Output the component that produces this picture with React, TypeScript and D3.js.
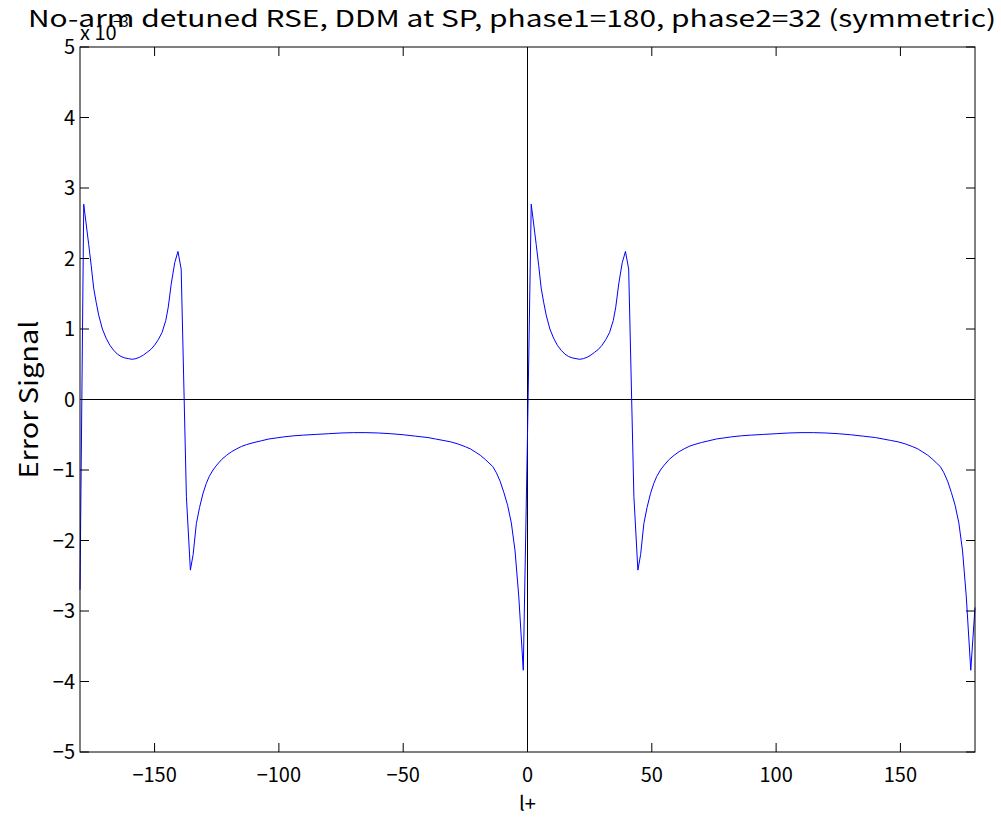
import React from "react";
import * as d3 from "d3";

const titleText = "No-arm detuned RSE, DDM at SP, phase1=180, phase2=32 (symmetric)";
const xLabel = "l+";
const yLabel = "Error Signal";
const xTicks = [-150, -100, -50, 0, 50, 100, 150];
const yTicks = [-5, -4, -3, -2, -1, 0, 1, 2, 3, 4, 5];

const leftPhase = [
  -180, -178.5, -176.5, -175.5, -174.5, -173.5, -172.5, -171, -169.5, -168,
  -166.5, -165, -163.5, -162, -160.5, -159, -157.5, -156, -154.5, -153,
  -151.5, -150, -148.5, -147, -145.5, -144.5, -143.3, -141.9, -140.6, -139.3,
  -137.2, -135.6, -134.5, -133.2, -131.9, -130.5, -129.2, -128, -126.5, -125,
  -123, -121, -119, -117, -115, -113, -110, -107, -104, -101,
  -98, -94, -90, -85, -80, -75, -70, -65, -60, -55,
  -50, -45, -40, -37, -34, -31, -28, -25, -23, -21,
  -19, -17, -15.5, -14, -12.5, -11, -9.5, -8, -6.5, -5,
  -3.5, -1.7,
];
const leftSignal = [
  -2.7, 2.77, 2.2, 1.9, 1.58, 1.38, 1.2, 1.0, 0.87, 0.77,
  0.7, 0.645, 0.61, 0.59, 0.58, 0.57, 0.58, 0.6, 0.63, 0.67,
  0.71, 0.77, 0.85, 0.95, 1.12, 1.31, 1.64, 1.94, 2.1, 1.85,
  -1.38, -2.42, -2.2, -1.76, -1.53, -1.33, -1.19, -1.09, -1.0, -0.93,
  -0.85, -0.79, -0.74, -0.7, -0.665, -0.64, -0.61, -0.585, -0.56, -0.545,
  -0.53, -0.515, -0.505, -0.495, -0.485, -0.475, -0.47, -0.47, -0.475, -0.485,
  -0.5, -0.52, -0.54, -0.56, -0.58, -0.6, -0.63, -0.67, -0.7, -0.745,
  -0.79, -0.85, -0.9, -0.95, -1.04, -1.16, -1.32, -1.5, -1.75, -2.15,
  -2.8, -3.84,
];

const rightPhase = [
  0, 1.5, 3.5, 4.5, 5.5, 6.5, 7.5, 9, 10.5, 12,
  13.5, 15, 16.5, 18, 19.5, 21, 22.5, 24, 25.5, 27,
  28.5, 30, 31.5, 33, 34.5, 35.5, 36.7, 38.1, 39.4, 40.7,
  42.8, 44.4, 45.5, 46.8, 48.1, 49.5, 50.8, 52, 53.5, 55,
  57, 59, 61, 63, 65, 67, 70, 73, 76, 79,
  82, 86, 90, 95, 100, 105, 110, 115, 120, 125,
  130, 135, 140, 143, 146, 149, 152, 155, 157, 159,
  161, 163, 164.5, 166, 167.5, 169, 170.5, 172, 173.5, 175,
  176.5, 178.3, 180,
];
const rightSignal = [
  -0.5, 2.77, 2.2, 1.9, 1.58, 1.38, 1.2, 1.0, 0.87, 0.77,
  0.7, 0.645, 0.61, 0.59, 0.58, 0.57, 0.58, 0.6, 0.63, 0.67,
  0.71, 0.77, 0.85, 0.95, 1.12, 1.31, 1.64, 1.94, 2.1, 1.85,
  -1.38, -2.42, -2.2, -1.76, -1.53, -1.33, -1.19, -1.09, -1.0, -0.93,
  -0.85, -0.79, -0.74, -0.7, -0.665, -0.64, -0.61, -0.585, -0.56, -0.545,
  -0.53, -0.515, -0.505, -0.495, -0.485, -0.475, -0.47, -0.47, -0.475, -0.485,
  -0.5, -0.52, -0.54, -0.56, -0.58, -0.6, -0.63, -0.67, -0.7, -0.745,
  -0.79, -0.85, -0.9, -0.95, -1.04, -1.16, -1.32, -1.5, -1.75, -2.15,
  -2.8, -3.84, -2.95,
];

const W = 1001;
const H = 817;
const M = { left: 80, right: 975, top: 47, bottom: 752 };
const FONT = "'Noto Sans CJK JP', 'Noto Sans', sans-serif";

export default function App() {
  const x = d3.scaleLinear().domain([-180, 180]).range([M.left, M.right]);
  const y = d3.scaleLinear().domain([-5, 5]).range([M.bottom, M.top]);

  const phases = [...leftPhase, ...rightPhase];
  const signals = [...leftSignal, ...rightSignal];
  const n = Math.min(phases.length, signals.length);
  const pts: [number, number][] = [];
  for (let i = 0; i < n; i++) pts.push([phases[i], signals[i]]);

  const line = d3
    .line<[number, number]>()
    .defined((d) => Number.isFinite(d[0]) && Number.isFinite(d[1]))
    .x((d) => x(d[0]))
    .y((d) => y(d[1]));

  const tl = 9;
  const fmt = (t: number) => (t < 0 ? "\u2212" + Math.abs(t) : String(t));

  return (
    <svg
      width={W}
      height={H}
      style={{ position: "absolute", left: 0, top: 0, background: "#fff" }}
      fontFamily={FONT}
    >
      <rect x={0} y={0} width={W} height={H} fill="#fff" />
      <line x1={M.left} x2={M.right} y1={y(0)} y2={y(0)} stroke="#000" strokeWidth={1} />
      <line x1={x(0)} x2={x(0)} y1={M.top} y2={M.bottom} stroke="#000" strokeWidth={1} />
      <path d={line(pts) || ""} fill="none" stroke="#0000ff" strokeWidth={1} />
      <rect
        x={M.left}
        y={M.top}
        width={M.right - M.left}
        height={M.bottom - M.top}
        fill="none"
        stroke="#000"
        strokeWidth={1}
      />
      {xTicks.map((t) => (
        <g key={"x" + t}>
          <line x1={x(t)} x2={x(t)} y1={M.bottom} y2={M.bottom - tl} stroke="#000" />
          <line x1={x(t)} x2={x(t)} y1={M.top} y2={M.top + tl} stroke="#000" />
          <text x={x(t)} y={M.bottom + 30} textAnchor="middle" fontSize={20} fill="#000">
            {fmt(t)}
          </text>
        </g>
      ))}
      {yTicks.map((t) => (
        <g key={"y" + t}>
          <line x1={M.left} x2={M.left + tl} y1={y(t)} y2={y(t)} stroke="#000" />
          <line x1={M.right} x2={M.right - tl} y1={y(t)} y2={y(t)} stroke="#000" />
          <text x={M.left - 5} y={y(t) + 7} textAnchor="end" fontSize={20} fill="#000">
            {fmt(t)}
          </text>
        </g>
      ))}
      <text x={M.left} y={40} fontSize={20} fill="#000">
        x 10
      </text>
      <text x={M.left + 33} y={27} fontSize={14} fill="#000">
        {"\u22123"}
      </text>
      <text
        x={512}
        y={27}
        textAnchor="middle"
        fontSize={23}
        fill="#000"
        textLength={968}
        lengthAdjust="spacingAndGlyphs"
      >
        {titleText}
      </text>
      <text x={x(0)} y={811} textAnchor="middle" fontSize={20} fill="#000">
        {xLabel}
      </text>
      <text
        transform={`translate(38, ${y(0)}) rotate(-90)`}
        textAnchor="middle"
        fontSize={25}
        fill="#000"
        textLength={158}
        lengthAdjust="spacingAndGlyphs"
      >
        {yLabel}
      </text>
    </svg>
  );
}
